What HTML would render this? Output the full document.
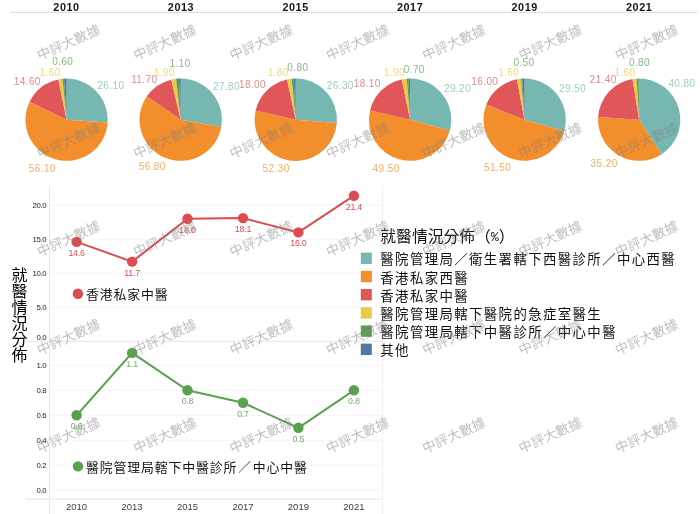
<!DOCTYPE html>
<html lang="zh-Hant"><head><meta charset="utf-8"><title>就醫情況分佈</title>
<style>html,body{margin:0;padding:0;background:#fff}svg{display:block}text{font-family:"Liberation Sans","Noto Sans CJK TC",sans-serif}.h{font-family:"Liberation Sans",sans-serif;font-weight:bold;font-size:10.8px;fill:#161620;text-anchor:middle;letter-spacing:.6px}.pl{font-family:"Liberation Sans",sans-serif;font-size:10px;text-anchor:middle;fill-opacity:.72;letter-spacing:.4px}.yt{font-family:"Liberation Sans",sans-serif;font-size:7.8px;fill:#222;text-anchor:end;letter-spacing:-.3px}.xt{font-family:"Liberation Sans",sans-serif;font-size:9.5px;fill:#3a3a3a;text-anchor:middle}.ml{font-family:"Liberation Sans",sans-serif;font-size:8.8px;text-anchor:middle;letter-spacing:-.2px}.an{font-size:12.9px;fill:#151515;letter-spacing:.85px}.lg{font-size:13.4px;fill:#111;letter-spacing:1.4px}.lt{font-size:15.8px;fill:#111}.vt{font-size:16px;fill:#000}.wm{font-size:13.5px;fill:#808080;fill-opacity:.5;text-anchor:middle}</style></head><body>
<svg width="700" height="514" viewBox="0 0 700 514">
<rect width="700" height="514" fill="#fff"/>
<line x1="10" y1="12.4" x2="697" y2="12.4" stroke="#d9d9d9" stroke-width="1"/>
<text class="h" x="66.5" y="11.4">2010</text>
<text class="h" x="181.0" y="11.4">2013</text>
<text class="h" x="295.6" y="11.4">2015</text>
<text class="h" x="410.1" y="11.4">2017</text>
<text class="h" x="524.7" y="11.4">2019</text>
<text class="h" x="639.2" y="11.4">2021</text>
<path d="M66.60 119.70L66.60 78.55A41.15 41.15 0 0 1 107.65 122.54Z" fill="#76b7b2"/>
<path d="M66.60 119.70L107.65 122.54A41.15 41.15 0 1 1 29.59 101.71Z" fill="#f28e2b"/>
<path d="M66.60 119.70L29.59 101.71A41.15 41.15 0 0 1 58.38 79.38Z" fill="#e15759"/>
<path d="M66.60 119.70L58.38 79.38A41.15 41.15 0 0 1 62.47 78.76Z" fill="#edc948"/>
<path d="M66.60 119.70L62.47 78.76A41.15 41.15 0 0 1 64.02 78.63Z" fill="#59a14f"/>
<path d="M66.60 119.70L64.02 78.63A41.15 41.15 0 0 1 66.60 78.55Z" fill="#4e79a7"/>
<text class="pl" x="110.9" y="88.9" fill="#76b7b2">26.10</text>
<text class="pl" x="42.3" y="172.3" fill="#f28e2b">56.10</text>
<text class="pl" x="27.3" y="84.6" fill="#e15759">14.60</text>
<text class="pl" x="50.1" y="76.1" fill="#edc948">1.60</text>
<text class="pl" x="62.8" y="64.9" fill="#59a14f">0.60</text>
<path d="M180.70 119.70L180.70 78.55A41.15 41.15 0 0 1 221.21 126.90Z" fill="#76b7b2"/>
<path d="M180.70 119.70L221.21 126.90A41.15 41.15 0 1 1 146.81 96.36Z" fill="#f28e2b"/>
<path d="M180.70 119.70L146.81 96.36A41.15 41.15 0 0 1 171.22 79.66Z" fill="#e15759"/>
<path d="M180.70 119.70L171.22 79.66A41.15 41.15 0 0 1 176.06 78.81Z" fill="#edc948"/>
<path d="M180.70 119.70L176.06 78.81A41.15 41.15 0 0 1 178.89 78.59Z" fill="#59a14f"/>
<path d="M180.70 119.70L178.89 78.59A41.15 41.15 0 0 1 180.70 78.55Z" fill="#4e79a7"/>
<text class="pl" x="226.5" y="90.3" fill="#76b7b2">27.80</text>
<text class="pl" x="152.2" y="170.4" fill="#f28e2b">56.80</text>
<text class="pl" x="144.3" y="82.7" fill="#e15759">11.70</text>
<text class="pl" x="164.2" y="75.9" fill="#edc948">1.90</text>
<text class="pl" x="180.1" y="67.0" fill="#59a14f">1.10</text>
<path d="M295.75 119.70L295.75 78.55A41.15 41.15 0 0 1 336.76 123.06Z" fill="#76b7b2"/>
<path d="M295.75 119.70L336.76 123.06A41.15 41.15 0 1 1 255.65 110.47Z" fill="#f28e2b"/>
<path d="M295.75 119.70L255.65 110.47A41.15 41.15 0 0 1 287.03 79.49Z" fill="#e15759"/>
<path d="M295.75 119.70L287.03 79.49A41.15 41.15 0 0 1 291.62 78.76Z" fill="#edc948"/>
<path d="M295.75 119.70L291.62 78.76A41.15 41.15 0 0 1 293.68 78.60Z" fill="#59a14f"/>
<path d="M295.75 119.70L293.68 78.60A41.15 41.15 0 0 1 295.75 78.55Z" fill="#4e79a7"/>
<text class="pl" x="340.3" y="89.0" fill="#76b7b2">26.30</text>
<text class="pl" x="276.1" y="171.7" fill="#f28e2b">52.30</text>
<text class="pl" x="252.5" y="87.7" fill="#e15759">18.00</text>
<text class="pl" x="278.2" y="75.9" fill="#edc948">1.80</text>
<text class="pl" x="297.9" y="71.3" fill="#59a14f">0.80</text>
<path d="M410.10 119.70L410.10 78.55A41.15 41.15 0 0 1 449.83 130.43Z" fill="#76b7b2"/>
<path d="M410.10 119.70L449.83 130.43A41.15 41.15 0 0 1 370.06 110.22Z" fill="#f28e2b"/>
<path d="M410.10 119.70L370.06 110.22A41.15 41.15 0 0 1 401.88 79.38Z" fill="#e15759"/>
<path d="M410.10 119.70L401.88 79.38A41.15 41.15 0 0 1 406.74 78.69Z" fill="#edc948"/>
<path d="M410.10 119.70L406.74 78.69A41.15 41.15 0 0 1 408.55 78.58Z" fill="#59a14f"/>
<path d="M410.10 119.70L408.55 78.58A41.15 41.15 0 0 1 410.10 78.55Z" fill="#4e79a7"/>
<text class="pl" x="457.5" y="92.0" fill="#76b7b2">29.20</text>
<text class="pl" x="386.1" y="171.7" fill="#f28e2b">49.50</text>
<text class="pl" x="367.2" y="87.2" fill="#e15759">18.10</text>
<text class="pl" x="394.4" y="75.9" fill="#edc948">1.90</text>
<text class="pl" x="414.3" y="73.1" fill="#59a14f">0.70</text>
<path d="M524.60 119.70L524.60 78.55A41.15 41.15 0 0 1 564.12 131.18Z" fill="#76b7b2"/>
<path d="M524.60 119.70L564.12 131.18A41.15 41.15 0 1 1 486.34 104.55Z" fill="#f28e2b"/>
<path d="M524.60 119.70L486.34 104.55A41.15 41.15 0 0 1 516.89 79.28Z" fill="#e15759"/>
<path d="M524.60 119.70L516.89 79.28A41.15 41.15 0 0 1 520.98 78.71Z" fill="#edc948"/>
<path d="M524.60 119.70L520.98 78.71A41.15 41.15 0 0 1 522.27 78.62Z" fill="#59a14f"/>
<path d="M524.60 119.70L522.27 78.62A41.15 41.15 0 0 1 524.60 78.55Z" fill="#4e79a7"/>
<text class="pl" x="572.5" y="91.5" fill="#76b7b2">29.50</text>
<text class="pl" x="497.6" y="171.2" fill="#f28e2b">51.50</text>
<text class="pl" x="484.8" y="84.7" fill="#e15759">16.00</text>
<text class="pl" x="508.7" y="75.9" fill="#edc948">1.60</text>
<text class="pl" x="524.0" y="65.7" fill="#59a14f">0.50</text>
<path d="M639.20 119.70L639.20 78.55A41.15 41.15 0 0 1 661.68 154.16Z" fill="#76b7b2"/>
<path d="M639.20 119.70L661.68 154.16A41.15 41.15 0 0 1 598.13 117.12Z" fill="#f28e2b"/>
<path d="M639.20 119.70L598.13 117.12A41.15 41.15 0 0 1 632.51 79.10Z" fill="#e15759"/>
<path d="M639.20 119.70L632.51 79.10A41.15 41.15 0 0 1 636.62 78.63Z" fill="#edc948"/>
<path d="M639.20 119.70L636.62 78.63A41.15 41.15 0 0 1 638.68 78.55Z" fill="#59a14f"/>
<path d="M639.20 119.70L638.68 78.55A41.15 41.15 0 0 1 639.20 78.55Z" fill="#4e79a7"/>
<text class="pl" x="681.9" y="86.5" fill="#76b7b2">40.80</text>
<text class="pl" x="604.1" y="167.4" fill="#f28e2b">35.20</text>
<text class="pl" x="603.1" y="82.7" fill="#e15759">21.40</text>
<text class="pl" x="625.0" y="75.9" fill="#edc948">1.60</text>
<text class="pl" x="639.5" y="65.7" fill="#59a14f">0.80</text>
<line x1="49.5" y1="307.2" x2="382.6" y2="307.2" stroke="#f4f4f4"/>
<line x1="49.5" y1="273.2" x2="382.6" y2="273.2" stroke="#f4f4f4"/>
<line x1="49.5" y1="239.2" x2="382.6" y2="239.2" stroke="#f4f4f4"/>
<line x1="49.5" y1="205.2" x2="382.6" y2="205.2" stroke="#f4f4f4"/>
<line x1="49.5" y1="490.1" x2="382.6" y2="490.1" stroke="#f4f4f4"/>
<line x1="49.5" y1="465.2" x2="382.6" y2="465.2" stroke="#f4f4f4"/>
<line x1="49.5" y1="440.2" x2="382.6" y2="440.2" stroke="#f4f4f4"/>
<line x1="49.5" y1="415.3" x2="382.6" y2="415.3" stroke="#f4f4f4"/>
<line x1="49.5" y1="390.3" x2="382.6" y2="390.3" stroke="#f4f4f4"/>
<line x1="49.5" y1="365.4" x2="382.6" y2="365.4" stroke="#f4f4f4"/>
<line x1="49.5" y1="186" x2="49.5" y2="514" stroke="#e8e8e8"/>
<line x1="382.6" y1="186" x2="382.6" y2="514" stroke="#efefef"/>
<line x1="25.7" y1="341.3" x2="382.6" y2="341.3" stroke="#e6e6e6"/>
<line x1="25.7" y1="499.2" x2="382.6" y2="499.2" stroke="#e6e6e6"/>
<text class="yt" x="46.4" y="340.1">0.0</text>
<text class="yt" x="46.4" y="309.7">5.0</text>
<text class="yt" x="46.4" y="275.7">10.0</text>
<text class="yt" x="46.4" y="241.7">15.0</text>
<text class="yt" x="46.4" y="207.7">20.0</text>
<text class="yt" x="46.4" y="492.6">0.0</text>
<text class="yt" x="46.4" y="467.7">0.2</text>
<text class="yt" x="46.4" y="442.7">0.4</text>
<text class="yt" x="46.4" y="417.8">0.6</text>
<text class="yt" x="46.4" y="392.8">0.8</text>
<text class="yt" x="46.4" y="367.9">1.0</text>
<text class="xt" x="76.6" y="509.6">2010</text>
<text class="xt" x="132.1" y="509.6">2013</text>
<text class="xt" x="187.5" y="509.6">2015</text>
<text class="xt" x="243.0" y="509.6">2017</text>
<text class="xt" x="298.4" y="509.6">2019</text>
<text class="xt" x="353.9" y="509.6">2021</text>
<polyline fill="none" stroke="#dd4b53" stroke-width="2" points="76.6,241.9 132.1,261.6 187.5,218.8 243.0,218.1 298.4,232.4 353.9,195.7"/>
<circle cx="76.6" cy="241.9" r="5.2" fill="#dd4b53"/>
<text class="ml" x="76.6" y="255.9" fill="#dd4b53">14.6</text>
<circle cx="132.1" cy="261.6" r="5.2" fill="#dd4b53"/>
<text class="ml" x="132.1" y="275.6" fill="#dd4b53">11.7</text>
<circle cx="187.5" cy="218.8" r="5.2" fill="#dd4b53"/>
<text class="ml" x="187.5" y="232.8" fill="#dd4b53">18.0</text>
<circle cx="243.0" cy="218.1" r="5.2" fill="#dd4b53"/>
<text class="ml" x="243.0" y="232.1" fill="#dd4b53">18.1</text>
<circle cx="298.4" cy="232.4" r="5.2" fill="#dd4b53"/>
<text class="ml" x="298.4" y="246.4" fill="#dd4b53">16.0</text>
<circle cx="353.9" cy="195.7" r="5.2" fill="#dd4b53"/>
<text class="ml" x="353.9" y="209.7" fill="#dd4b53">21.4</text>
<polyline fill="none" stroke="#59a14f" stroke-width="2" points="76.6,415.3 132.1,352.9 187.5,390.3 243.0,402.8 298.4,427.8 353.9,390.3"/>
<circle cx="76.6" cy="415.3" r="5.2" fill="#59a14f"/>
<text class="ml" x="76.6" y="429.3" fill="#59a14f" fill-opacity=".85">0.6</text>
<circle cx="132.1" cy="352.9" r="5.2" fill="#59a14f"/>
<text class="ml" x="132.1" y="366.9" fill="#59a14f" fill-opacity=".85">1.1</text>
<circle cx="187.5" cy="390.3" r="5.2" fill="#59a14f"/>
<text class="ml" x="187.5" y="404.3" fill="#59a14f" fill-opacity=".85">0.8</text>
<circle cx="243.0" cy="402.8" r="5.2" fill="#59a14f"/>
<text class="ml" x="243.0" y="416.8" fill="#59a14f" fill-opacity=".85">0.7</text>
<circle cx="298.4" cy="427.8" r="5.2" fill="#59a14f"/>
<text class="ml" x="298.4" y="441.8" fill="#59a14f" fill-opacity=".85">0.5</text>
<circle cx="353.9" cy="390.3" r="5.2" fill="#59a14f"/>
<text class="ml" x="353.9" y="404.3" fill="#59a14f" fill-opacity=".85">0.8</text>
<circle cx="77.9" cy="293.7" r="5.2" fill="#dd4b53"/>
<text class="an" x="86" y="299">香港私家中醫</text>
<circle cx="78" cy="466.4" r="5.2" fill="#59a14f"/>
<text class="an" x="86" y="471.8">醫院管理局轄下中醫診所<tspan dx="0.9">／</tspan><tspan dx="0.9">中心中醫</tspan></text>
<text class="vt"><tspan x="11.4" y="281.0">就</tspan><tspan x="11.4" y="297.0">醫</tspan><tspan x="11.4" y="313.0">情</tspan><tspan x="11.4" y="329.0">況</tspan><tspan x="11.4" y="345.0">分</tspan><tspan x="11.4" y="361.0">佈</tspan></text>
<text class="lt" x="380.3" y="242.2">就醫情況分佈（<tspan style="font-family:'Liberation Mono',monospace;font-size:13px" dy="-1">%</tspan><tspan dy="1">）</tspan></text>
<rect x="360.8" y="252.6" width="11" height="11.4" fill="#76b7b2"/>
<text class="lg" x="380.3" y="264.3">醫院管理局／衛生署轄下西醫診所／中心西醫</text>
<rect x="360.8" y="270.8" width="11" height="11.4" fill="#f28e2b"/>
<text class="lg" x="380.3" y="282.5">香港私家西醫</text>
<rect x="360.8" y="289.0" width="11" height="11.4" fill="#e15759"/>
<text class="lg" x="380.3" y="300.7">香港私家中醫</text>
<rect x="360.8" y="307.2" width="11" height="11.4" fill="#edc948"/>
<text class="lg" x="380.3" y="318.9">醫院管理局轄下醫院的急症室醫生</text>
<rect x="360.8" y="325.4" width="11" height="11.4" fill="#59a14f"/>
<text class="lg" x="380.3" y="337.1">醫院管理局轄下中醫診所／中心中醫</text>
<rect x="360.8" y="343.6" width="11" height="11.4" fill="#4e79a7"/>
<text class="lg" x="380.3" y="355.3">其他</text>
<text class="wm" transform="translate(68.5 42.5) rotate(-24)" y="4.8">中評大數據</text>
<text class="wm" transform="translate(164.8 42.5) rotate(-24)" y="4.8">中評大數據</text>
<text class="wm" transform="translate(261.2 42.5) rotate(-24)" y="4.8">中評大數據</text>
<text class="wm" transform="translate(357.5 42.5) rotate(-24)" y="4.8">中評大數據</text>
<text class="wm" transform="translate(453.9 42.5) rotate(-24)" y="4.8">中評大數據</text>
<text class="wm" transform="translate(550.2 42.5) rotate(-24)" y="4.8">中評大數據</text>
<text class="wm" transform="translate(646.6 42.5) rotate(-24)" y="4.8">中評大數據</text>
<text class="wm" transform="translate(68.5 140.7) rotate(-24)" y="4.8">中評大數據</text>
<text class="wm" transform="translate(164.8 140.7) rotate(-24)" y="4.8">中評大數據</text>
<text class="wm" transform="translate(261.2 140.7) rotate(-24)" y="4.8">中評大數據</text>
<text class="wm" transform="translate(357.5 140.7) rotate(-24)" y="4.8">中評大數據</text>
<text class="wm" transform="translate(453.9 140.7) rotate(-24)" y="4.8">中評大數據</text>
<text class="wm" transform="translate(550.2 140.7) rotate(-24)" y="4.8">中評大數據</text>
<text class="wm" transform="translate(646.6 140.7) rotate(-24)" y="4.8">中評大數據</text>
<text class="wm" transform="translate(68.5 238.9) rotate(-24)" y="4.8">中評大數據</text>
<text class="wm" transform="translate(164.8 238.9) rotate(-24)" y="4.8">中評大數據</text>
<text class="wm" transform="translate(261.2 238.9) rotate(-24)" y="4.8">中評大數據</text>
<text class="wm" transform="translate(357.5 238.9) rotate(-24)" y="4.8">中評大數據</text>
<text class="wm" transform="translate(453.9 238.9) rotate(-24)" y="4.8">中評大數據</text>
<text class="wm" transform="translate(550.2 238.9) rotate(-24)" y="4.8">中評大數據</text>
<text class="wm" transform="translate(646.6 238.9) rotate(-24)" y="4.8">中評大數據</text>
<text class="wm" transform="translate(68.5 337.1) rotate(-24)" y="4.8">中評大數據</text>
<text class="wm" transform="translate(164.8 337.1) rotate(-24)" y="4.8">中評大數據</text>
<text class="wm" transform="translate(261.2 337.1) rotate(-24)" y="4.8">中評大數據</text>
<text class="wm" transform="translate(357.5 337.1) rotate(-24)" y="4.8">中評大數據</text>
<text class="wm" transform="translate(453.9 337.1) rotate(-24)" y="4.8">中評大數據</text>
<text class="wm" transform="translate(550.2 337.1) rotate(-24)" y="4.8">中評大數據</text>
<text class="wm" transform="translate(646.6 337.1) rotate(-24)" y="4.8">中評大數據</text>
<text class="wm" transform="translate(68.5 435.3) rotate(-24)" y="4.8">中評大數據</text>
<text class="wm" transform="translate(164.8 435.3) rotate(-24)" y="4.8">中評大數據</text>
<text class="wm" transform="translate(261.2 435.3) rotate(-24)" y="4.8">中評大數據</text>
<text class="wm" transform="translate(357.5 435.3) rotate(-24)" y="4.8">中評大數據</text>
<text class="wm" transform="translate(453.9 435.3) rotate(-24)" y="4.8">中評大數據</text>
<text class="wm" transform="translate(550.2 435.3) rotate(-24)" y="4.8">中評大數據</text>
<text class="wm" transform="translate(646.6 435.3) rotate(-24)" y="4.8">中評大數據</text>
</svg></body></html>
